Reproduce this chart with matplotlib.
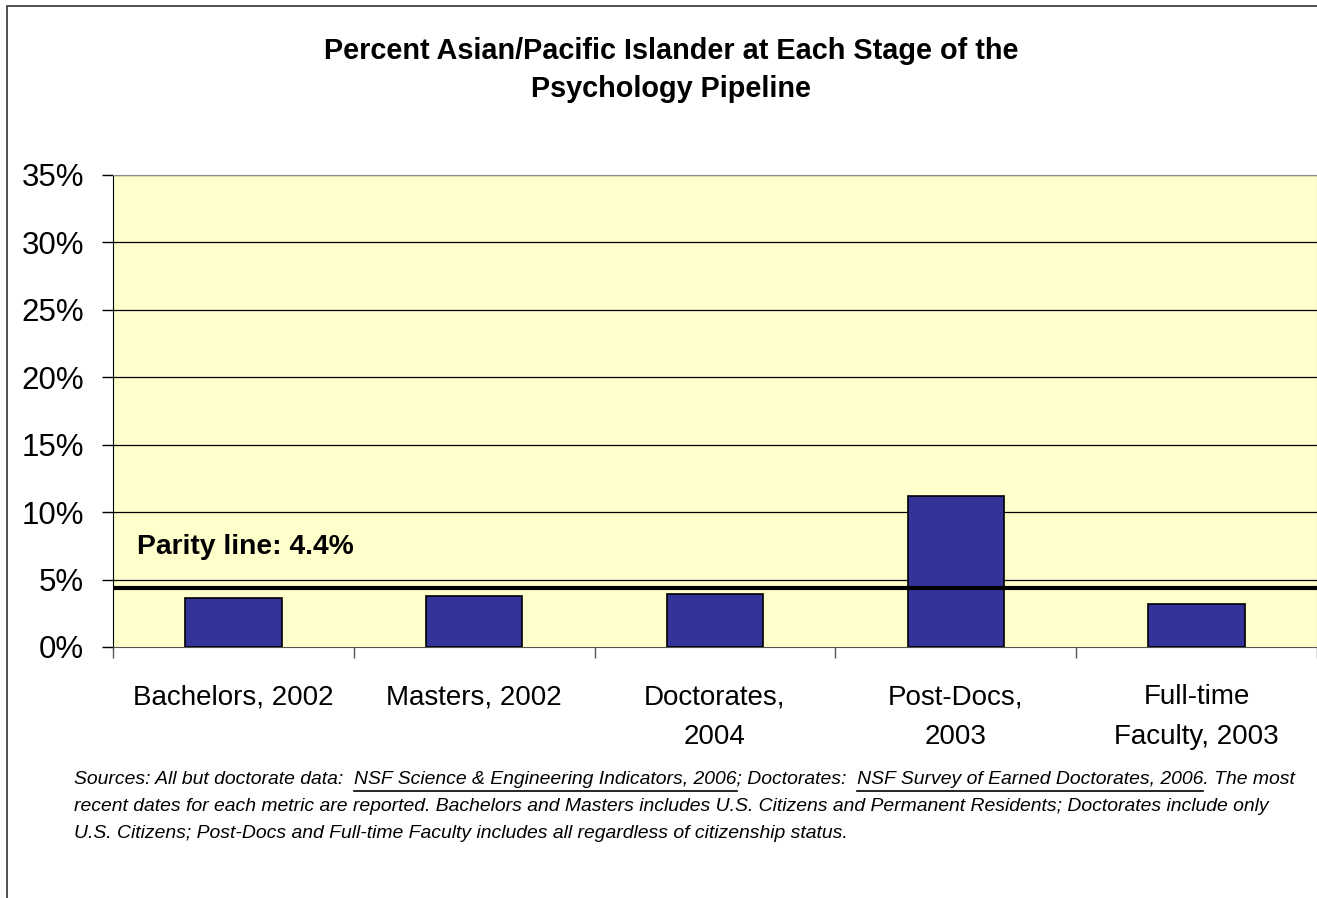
import numpy as np
import matplotlib
matplotlib.use("Agg")
import matplotlib.pyplot as plt
from matplotlib.lines import Line2D
from matplotlib.patches import Rectangle

plt.rcParams["font.family"] = ["Liberation Sans", "DejaVu Sans"]

# pipeline stages and percent Asian/Pacific Islander at each one
stages = ["Bachelors, 2002", "Masters, 2002", "Doctorates,\n2004",
          "Post-Docs,\n2003", "Full-time\nFaculty, 2003"]
percent_api = [3.65, 3.8, 3.95, 11.2, 3.2]
parity_pct = 4.4
y_ticks = [0, 5, 10, 15, 20, 25, 30, 35]

title = "Percent Asian/Pacific Islander at Each Stage of the\nPsychology Pipeline"

# footnote lines: (text, underlined pieces)
footnote_lines = [
    ("Sources: All but doctorate data:  NSF Science & Engineering Indicators, 2006; "
     "Doctorates:  NSF Survey of Earned Doctorates, 2006. The most",
     ["NSF Science & Engineering Indicators, 2006",
      "NSF Survey of Earned Doctorates, 2006"]),
    ("recent dates for each metric are reported. Bachelors and Masters includes U.S. "
     "Citizens and Permanent Residents; Doctorates include only", []),
    ("U.S. Citizens; Post-Docs and Full-time Faculty includes all regardless of "
     "citizenship status.", []),
]

W, H = 1317, 898
fig = plt.figure(figsize=(W / 100, H / 100), dpi=100)
fig.patch.set_facecolor("white")

# thin frame along the left and top edges
fig.add_artist(Rectangle((7 / W, -0.1), 2, 1.1 - 6 / H, transform=fig.transFigure,
                         fill=False, edgecolor="#333333", linewidth=1.2))

ax = fig.add_axes([113 / W, 1 - 647 / H, (W - 113) / W, (647 - 175) / H])
ax.set_facecolor("#FFFFCC")

x = np.arange(len(stages))
ax.bar(x, percent_api, width=0.4, color="#333399", edgecolor="black",
       linewidth=1.2, zorder=3)
ax.axhline(parity_pct, color="black", linewidth=3, zorder=4)
ax.text(-0.4, parity_pct + 3.0, f"Parity line: {parity_pct}%", fontsize=20.3,
        fontweight="bold", ha="left", va="center", zorder=5)

ax.set_xlim(-0.5, len(stages) - 0.5)
ax.set_ylim(0, 35)
ax.set_yticks(y_ticks)
ax.set_yticklabels([f"{v}%" for v in y_ticks], fontsize=22.5)
for v in y_ticks[1:]:
    ax.axhline(v, color="black", linewidth=0.9, zorder=1)

# category boundaries as major ticks, names on minor ticks
ax.set_xticks(np.arange(len(stages) + 1) - 0.5)
ax.set_xticklabels([])
ax.set_xticks(x, minor=True)
ax.set_xticklabels(stages, minor=True, fontsize=20)
for lbl in ax.get_xticklabels(minor=True):
    lbl.set_linespacing(1.68)
ax.tick_params(axis="x", which="major", length=8, width=1, color="#555555")
ax.tick_params(axis="x", which="minor", length=0, pad=27)
ax.tick_params(axis="y", length=8, width=1, pad=13, color="black")

ax.spines["left"].set_color("black")
ax.spines["bottom"].set_color("#555555")
ax.spines["top"].set_color("#888888")
ax.spines["right"].set_color("#888888")

fig.text(671 / W, 1 - 70 / H, title, fontsize=20.8, fontweight="bold",
         ha="center", va="center", linespacing=1.46)

# footnote with underlined source names
fig.canvas.draw()
renderer = fig.canvas.get_renderer()
fn_size = 13.95
fn_x = 74
fn_rows = [780, 806.5, 833]


def text_width(s):
    t = fig.text(0, 0, s, fontsize=fn_size, style="italic")
    w = t.get_window_extent(renderer).width
    t.remove()
    return w


for (line, underlined), y in zip(footnote_lines, fn_rows):
    fig.text(fn_x / W, 1 - y / H, line, fontsize=fn_size, style="italic",
             ha="left", va="center")
    for seg in underlined:
        idx = line.index(seg)
        end = fn_x + text_width(line[:idx] + seg)
        start = end - text_width(seg)
        uy = 1 - (y + 11) / H
        fig.add_artist(Line2D([start / W, end / W], [uy, uy],
                              transform=fig.transFigure, color="black",
                              linewidth=1.2))

fig.savefig("out.png", dpi=100)
